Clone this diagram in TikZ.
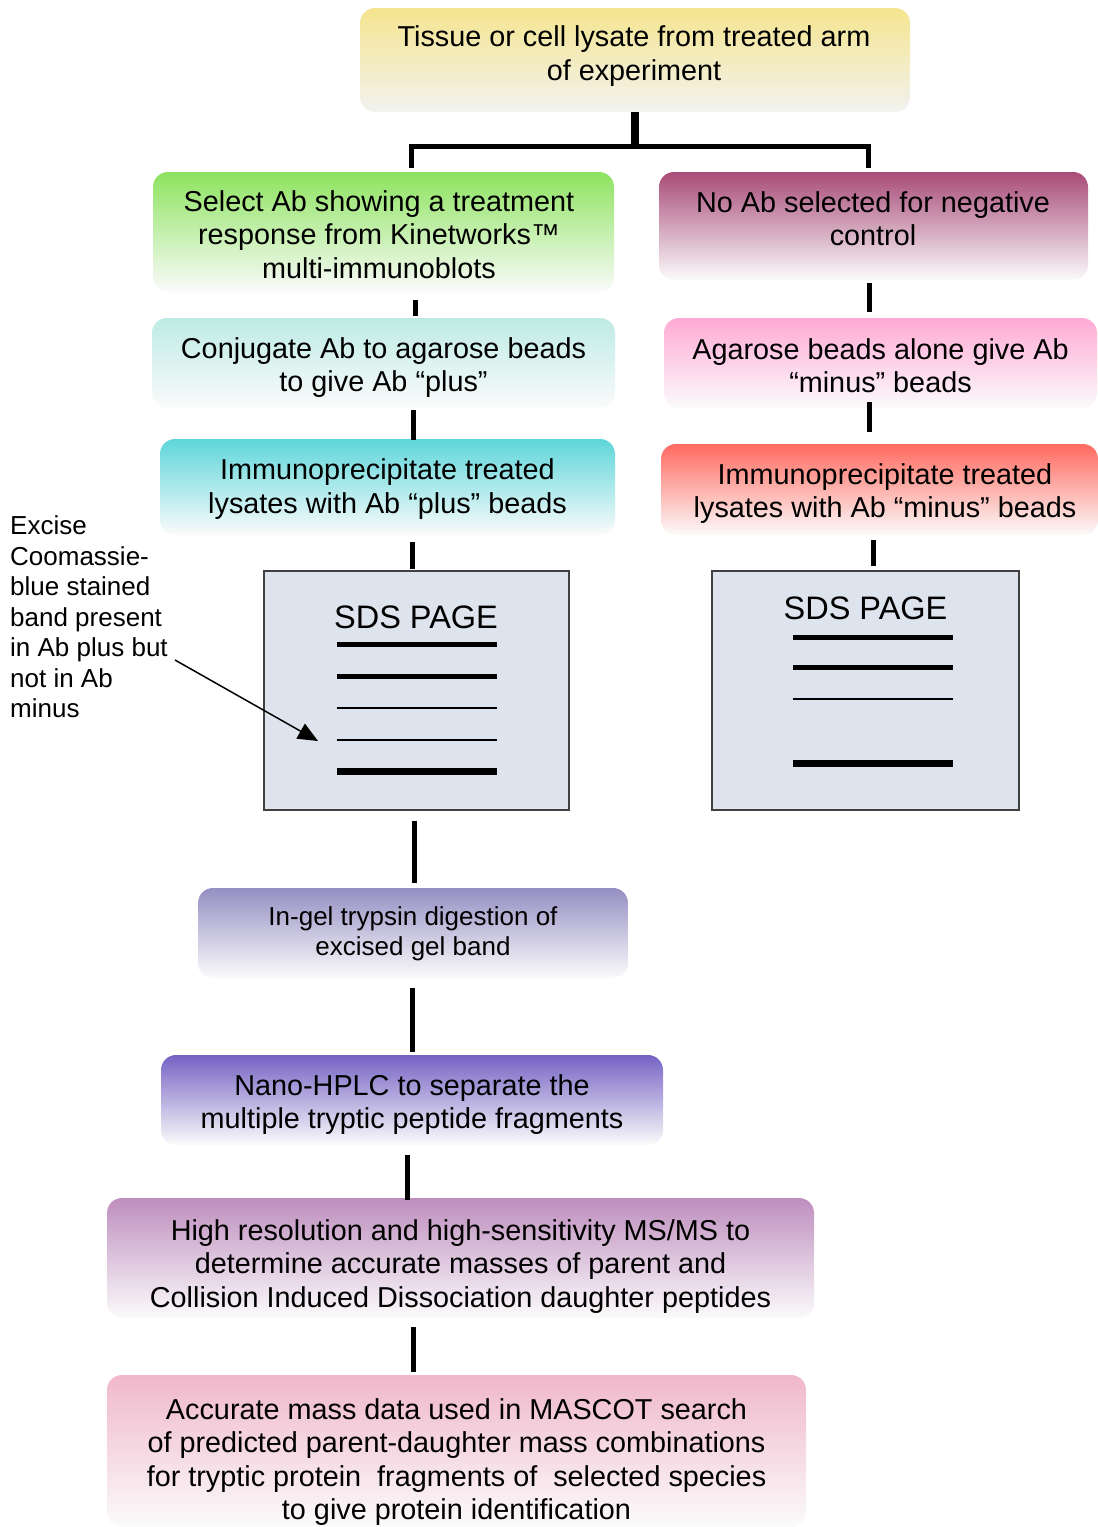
\documentclass[tikz,border=0pt]{standalone}
\usepackage{fontspec}
\setmainfont{Liberation Sans}
\usetikzlibrary{arrows.meta}
\definecolor{cYel}{HTML}{F5E58F}
\definecolor{cYelB}{HTML}{F2F2F0}
\definecolor{cGrn}{HTML}{8DE35F}
\definecolor{cMar}{HTML}{A84B78}
\definecolor{cLTe}{HTML}{BEEBE5}
\definecolor{cPnk}{HTML}{FFAAD5}
\definecolor{cTea}{HTML}{5ED6DA}
\definecolor{cRed}{HTML}{FF6A60}
\definecolor{cSds}{HTML}{DEE4ED}
\definecolor{cIng}{HTML}{958FC3}
\definecolor{cNan}{HTML}{7563C4}
\definecolor{cHig}{HTML}{BE8EBE}
\definecolor{cAcc}{HTML}{F0B8CA}
\definecolor{cFade}{HTML}{FBFBFB}
\newcommand\fsmain{\fontsize{28.8pt}{33.5pt}\selectfont}
\newcommand\fssmall{\fontsize{26pt}{30.5pt}\selectfont}
\newcommand\fssds{\fontsize{32.5pt}{37pt}\selectfont}
\begin{document}
\begin{tikzpicture}[x=1pt,y=-1pt,
  box/.style={rounded corners=15pt, inner sep=0pt, draw=none},
  txt/.style={align=center, inner sep=0pt, font=\fsmain},
  conn/.style={line width=5pt},
  sdsbox/.style={draw=black!75, line width=2pt, fill=cSds, inner sep=0pt},
  thick band/.style={line width=5pt},
  thin band/.style={line width=1.5pt},
  heavy band/.style={line width=7pt}]
\useasboundingbox (0,0) rectangle (1098,1527);

% boxes
\node[box, minimum width=550pt, minimum height=104pt, top color=cYel, bottom color=cYelB] (top) at (635,60) {};
\node[txt] (topT) at (634,56) {Tissue or cell lysate from treated arm\\of experiment};

\node[box, minimum width=461pt, minimum height=120pt, top color=cGrn, bottom color=cFade] (green) at (383.5,232) {};
\node[txt] (greenT) at (379,234.5) {Select Ab showing a treatment\\response from Kinetworks™\\multi-immunoblots};

\node[box, minimum width=429pt, minimum height=108pt, top color=cMar, bottom color=cFade] (maroon) at (873.5,226) {};
\node[txt] (maroonT) at (873,218.5) {No Ab selected for negative\\control};

\node[box, minimum width=463pt, minimum height=90pt, top color=cLTe, bottom color=cFade] (lteal) at (383.5,363) {};
\node[txt] (ltealT) at (383.5,367.5) {Conjugate Ab to agarose beads\\to give Ab “plus”};

\node[box, minimum width=433pt, minimum height=90pt, top color=cPnk, bottom color=cFade] (pink) at (880.5,363) {};
\node[txt] (pinkT) at (880.5,365.5) {Agarose beads alone give Ab\\“minus” beads};

\node[box, minimum width=455pt, minimum height=96pt, top color=cTea, bottom color=cFade] (teal) at (387.5,487) {};
\node[txt] (tealT) at (387.5,489) {Immunoprecipitate treated\\lysates with Ab “plus” beads};

\node[box, minimum width=437pt, minimum height=91pt, top color=cRed, bottom color=cFade] (red) at (879.5,489.5) {};
\node[txt] (redT) at (885,493.5) {Immunoprecipitate treated\\lysates with Ab “minus” beads};

% SDS PAGE boxes
\node[sdsbox, minimum width=305pt, minimum height=239pt] (sdsL) at (416.5,690.5) {};
\node[font=\fssds, inner sep=0pt] (sdsLT) at (416,617) {SDS PAGE};
\draw[thick band] (337,644) -- (497,644);
\draw[thick band] (337,676) -- (497,676);
\draw[thin band] (337,708) -- (497,708);
\draw[thin band] (337,740) -- (497,740);
\draw[heavy band] (337,771) -- (497,771);

\node[sdsbox, minimum width=307pt, minimum height=239pt] (sdsR) at (865.5,690.5) {};
\node[font=\fssds, inner sep=0pt] (sdsRT) at (865.5,608) {SDS PAGE};
\draw[thick band] (793,637) -- (953,637);
\draw[thick band] (793,667) -- (953,667);
\draw[thin band] (793,699) -- (953,699);
\draw[heavy band] (793,763) -- (953,763);

\node[box, minimum width=430pt, minimum height=90pt, top color=cIng, bottom color=cFade] (ingel) at (413,933) {};
\node[txt, font=\fssmall] (ingelT) at (413,934) {In-gel trypsin digestion of\\excised gel band};

\node[box, minimum width=502pt, minimum height=90pt, top color=cNan, bottom color=cFade] (nano) at (412,1100) {};
\node[txt] (nanoT) at (412,1104.5) {Nano-HPLC to separate the\\multiple tryptic peptide fragments};

\node[box, minimum width=707pt, minimum height=120pt, top color=cHig, bottom color=cFade] (high) at (460.5,1258) {};
\node[txt] (highT) at (460.5,1266.5) {High resolution and high-sensitivity MS/MS to\\determine accurate masses of parent and\\Collision Induced Dissociation daughter peptides};

\node[box, minimum width=699pt, minimum height=152pt, top color=cAcc, bottom color=cFade] (acc) at (456.5,1451) {};
\node[txt] (accT) at (456.5,1462) {Accurate mass data used in MASCOT search\\of predicted parent-daughter mass combinations\\for tryptic protein\ \ fragments of\ \ selected species\\to give protein identification};

% annotation
\node[font=\fssmall, align=left, inner sep=0pt, anchor=west] (annot) at (10,617) {Excise\\Coomassie-\\blue stained\\band present\\in Ab plus but\\not in Ab\\minus};
\coordinate (arrS) at (175,660);
\coordinate (band) at (318,741);
\draw[line width=1.5pt, -{Triangle[length=20pt,width=17pt]}] (arrS) -- (band);

% connector columns
\coordinate (barL) at (411,146);
\coordinate (barR) at (868,146);
\coordinate (xA) at (415,0);
\coordinate (xB) at (869,0);
\coordinate (xC) at (413,0);
\coordinate (xD) at (412,0);
\coordinate (xE) at (873,0);
\coordinate (xF) at (414,0);
\coordinate (xG) at (407,0);

\draw[line width=8pt] (top.south) -- (top.south |- barL);
\draw[conn, shorten <=4pt, shorten >=4pt, line join=miter] (barL |- green.north) -- (barL) -- (barR) -- (barR |- maroon.north);

\draw[conn, shorten <=8pt, shorten >=2pt] (green.south -| xA) -- (lteal.north -| xA);
\draw[conn, shorten <=3pt, shorten >=6pt] (maroon.south -| xB) -- (pink.north -| xB);
\draw[conn, shorten <=2pt, shorten >=-1pt] (lteal.south -| xC) -- (teal.north -| xC);
\draw[conn, shorten <=-6pt, shorten >=12pt] (pink.south -| xB) -- (red.north -| xB);
\draw[conn, shorten <=7pt, shorten >=1pt] (teal.south -| xD) -- (sdsL.north -| xD);
\draw[conn, shorten <=5pt, shorten >=4pt] (red.south -| xE) -- (sdsR.north -| xE);
\draw[conn, shorten <=10pt, shorten >=5pt] (sdsL.south -| xF) -- (ingel.north -| xF);
\draw[conn, shorten <=10pt, shorten >=3pt] (ingel.south -| xD) -- (nano.north -| xD);
\draw[conn, shorten <=10pt, shorten >=-2pt] (nano.south -| xG) -- (high.north -| xG);
\draw[conn, shorten <=9pt, shorten >=3pt] (high.south -| xC) -- (acc.north -| xC);
\end{tikzpicture}
\end{document}
